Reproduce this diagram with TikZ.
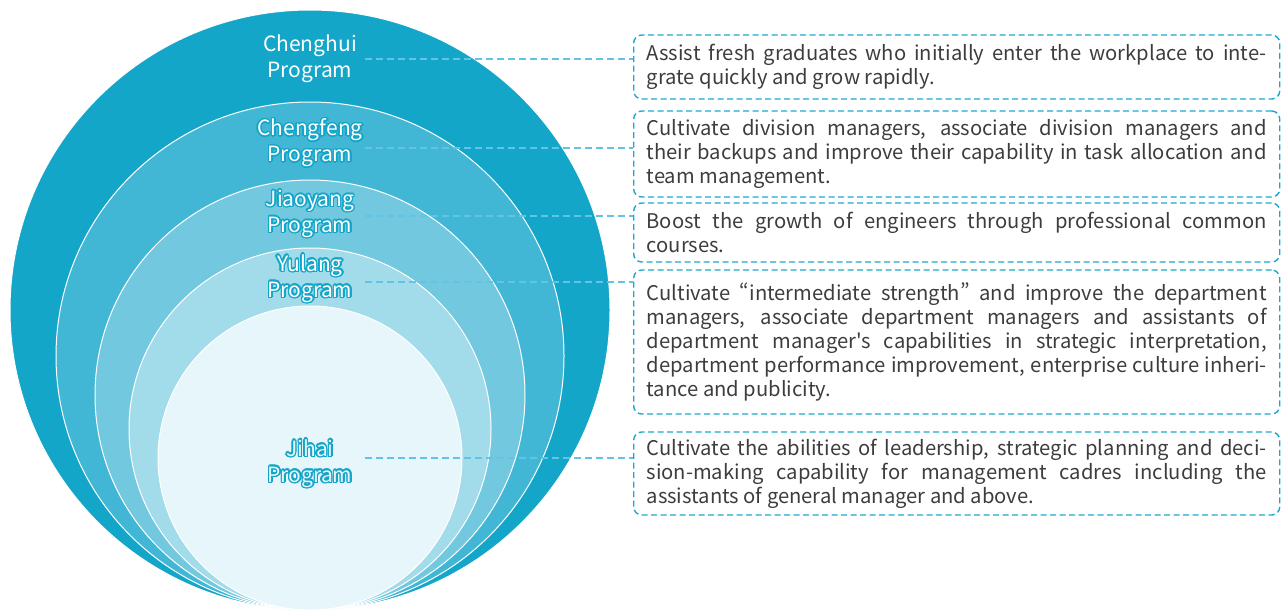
\documentclass[tikz,border=0pt]{standalone}
\usepackage{fontspec}
\usepackage{contour}
\usetikzlibrary{positioning}
\newfontfamily\notefont{Noto Sans CJK SC}[RawFeature=+pwid]
\definecolor{ringA}{HTML}{14A6C8}
\definecolor{ringB}{HTML}{42B7D5}
\definecolor{ringC}{HTML}{71C8DF}
\definecolor{ringD}{HTML}{A2DBEA}
\definecolor{ringE}{HTML}{E7F6FA}
\definecolor{boxline}{HTML}{1CA8CE}
\definecolor{linkline}{HTML}{62C4E4}
\definecolor{notetext}{HTML}{3D3D3D}
\contourlength{1.4pt}
\tikzset{
  ring/.style = {draw=white, line width=1pt},
  prog/.style = {align=center, inner sep=0pt,
    font=\notefont\fontsize{21}{26}\selectfont},
  progout/.style = {prog, text=white},
  note/.style = {draw=boxline, dash pattern=on 6pt off 3.5pt,
    line width=1.4pt, rounded corners=8pt, anchor=west,
    text width=620pt, inner xsep=13pt, align=justify, text=notetext,
    font=\notefont\fontsize{20.2}{24}\selectfont,
    execute at begin node={\tolerance=9999\relax}},
  link/.style = {draw=linkline, dash pattern=on 7pt off 4pt, line width=1.3pt}
}

\begin{document}
\begin{tikzpicture}[x=1pt, y=-1pt]
\useasboundingbox (0,0) rectangle (1282,611);
% nested rings, all touching at the bottom
\foreach \r/\col in {300/ringA, 254/ringB, 215/ringC, 181/ringD, 152/ringE}
  \filldraw[ring, fill=\col] (310,{610-\r}) circle[radius=\r pt];

% program names
\node[prog, text=white] (chenghui) at (310,59) {Chenghui\\Program};
\node[progout] (chengfeng) at (310,143.5)
  {\contour{ringA}{Chengfeng}\\\contour{ringA}{Program}};
\node[progout] (jiaoyang) at (310,214.5)
  {\contour{ringA}{Jiaoyang}\\\contour{ringA}{Program}};
\node[progout] (yulang) at (310,279)
  {\contour{ringA}{Yulang}\\\contour{ringA}{Program}};
\node[progout, text=ringE] (jihai) at (310,464)
  {\contour{ringA}{Jihai}\\\contour{ringA}{Program}};

% descriptions
\node[note, minimum height=64pt] (assist) at (633,67)
  {Assist fresh graduates who initially enter the workplace to inte-\linebreak
   grate quickly and grow rapidly.};
\node[note, minimum height=86pt] (division) at (633,154)
  {Cultivate division managers, associate division managers and\linebreak
   their backups and improve their capability in task allocation and\linebreak
   team management.};
\node[note, minimum height=59pt] (engineers) at (633,232.5)
  {Boost the growth of engineers through professional common\linebreak
   courses.};
\node[note, minimum height=144pt] (department) at (633,342)
  {Cultivate “intermediate strength” and improve the department\linebreak
   managers, associate department managers and assistants of\linebreak
   department manager's capabilities in strategic interpretation,\linebreak
   department performance improvement, enterprise culture inheri-\linebreak
   tance and publicity.};
\node[note, minimum height=83pt] (leadership) at (633,473.5)
  {Cultivate the abilities of leadership, strategic planning and deci-\linebreak
   sion-making capability for management cadres including the\linebreak
   assistants of general manager and above.};

% connectors
\coordinate (s1) at (365,59);
\coordinate (s2) at (365,148);
\coordinate (s3) at (365,216);
\coordinate (s4) at (365,282);
\coordinate (s5) at (365,458);
\draw[link] (s1) -- (s1 -| assist.west);
\draw[link] (s2) -- (s2 -| division.west);
\draw[link] (s3) -- (s3 -| engineers.west);
\draw[link] (s4) -- (s4 -| department.west);
\draw[link] (s5) -- (s5 -| leadership.west);
\end{tikzpicture}
\end{document}
